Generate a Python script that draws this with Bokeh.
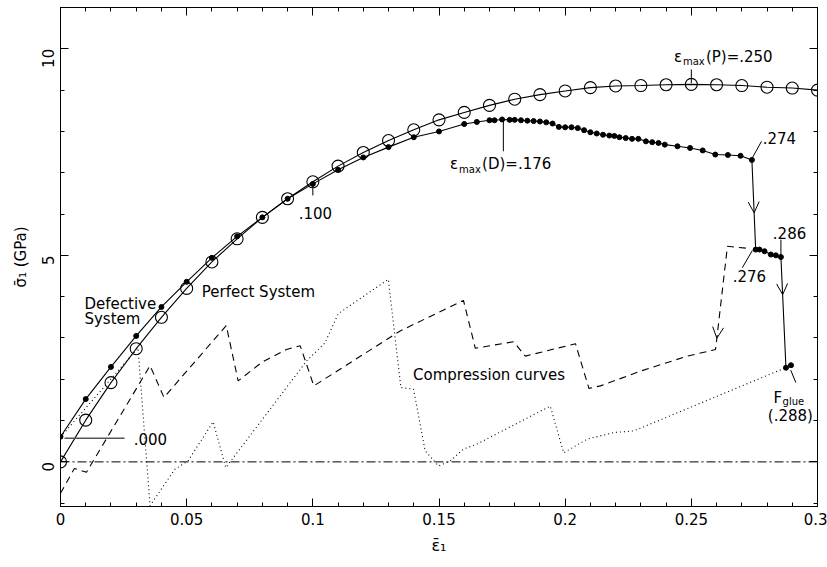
import math
from bokeh.plotting import figure
from bokeh.models import (Range1d, LinearAxis, FixedTicker, NumeralTickFormatter,
                          BasicTickFormatter, Span, Arrow, OpenHead, CustomLabelingPolicy)
from bokeh.core.properties import value
from bokeh.embed import file_html
from bokeh.resources import INLINE

# ---------------- data ----------------
eps_perfect = [0.00, 0.01, 0.02, 0.03, 0.04, 0.05, 0.06, 0.07, 0.08, 0.09, 0.10,
               0.11, 0.12, 0.13, 0.14, 0.15, 0.16, 0.17, 0.18, 0.19, 0.20,
               0.21, 0.22, 0.23, 0.24, 0.25, 0.26, 0.27, 0.28, 0.29, 0.30]
sig_perfect = [0.00, 1.01, 1.92, 2.74, 3.50, 4.20, 4.84, 5.40, 5.92, 6.37, 6.78,
               7.16, 7.49, 7.78, 8.04, 8.28, 8.46, 8.63, 8.78, 8.89, 8.98,
               9.06, 9.10, 9.11, 9.13, 9.14, 9.13, 9.11, 9.07, 9.05, 9.00]

eps_defect = [0.00, 0.01, 0.02, 0.03, 0.04, 0.05, 0.06, 0.07, 0.08, 0.09, 0.10,
              0.11, 0.12, 0.13, 0.14, 0.15, 0.16,
              0.165, 0.170, 0.172, 0.175, 0.178, 0.180, 0.1825, 0.185, 0.1875,
              0.190, 0.1925, 0.195, 0.1975, 0.200,
              0.2025, 0.205, 0.2075, 0.210, 0.2125, 0.215, 0.2175, 0.2195, 0.2215,
              0.224, 0.2265, 0.229,
              0.232, 0.2345, 0.237, 0.2395, 0.2445, 0.2495, 0.2545, 0.2595, 0.2645,
              0.2695, 0.274,
              0.2755, 0.277, 0.279, 0.2815, 0.2835, 0.2855,
              0.2875, 0.2895]
sig_defect = [0.61, 1.52, 2.30, 3.05, 3.75, 4.36, 4.94, 5.46, 5.92, 6.37, 6.73,
              7.07, 7.37, 7.62, 7.86, 8.00, 8.18,
              8.23, 8.27, 8.27, 8.29, 8.28, 8.28, 8.27, 8.26, 8.25,
              8.24, 8.22, 8.19, 8.11, 8.10,
              8.10, 8.08, 8.03, 7.98, 7.95, 7.92, 7.90, 7.89, 7.86,
              7.84, 7.82, 7.82,
              7.76, 7.74, 7.72, 7.68, 7.64, 7.60, 7.54, 7.44, 7.43,
              7.41, 7.31,
              5.14, 5.14, 5.10, 5.02, 5.00, 4.96,
              2.28, 2.34]

eps_comp_dashed = [0.0, 0.0055, 0.0103, 0.0355, 0.041, 0.0657, 0.0704, 0.080, 0.0895,
                   0.095, 0.1004, 0.1346, 0.1597, 0.1644, 0.1796, 0.1842, 0.2041,
                   0.2094, 0.214, 0.230, 0.2484, 0.2596, 0.2643, 0.2722]
sig_comp_dashed = [-0.76, -0.16, -0.25, 2.33, 1.56, 3.30, 1.96, 2.42, 2.72,
                   2.81, 1.84, 3.17, 3.91, 2.75, 2.91, 2.56, 2.86,
                   1.78, 1.84, 2.20, 2.56, 2.72, 5.22, 5.17]

eps_comp_dotted = [0.0, 0.0307, 0.0355, 0.0453, 0.0505, 0.0605, 0.0655, 0.0975, 0.1048,
                   0.1101, 0.1299, 0.1349, 0.1399, 0.1445, 0.1498, 0.1544, 0.1597,
                   0.165, 0.1941, 0.1994, 0.2087, 0.2193, 0.2272, 0.2874]
sig_comp_dotted = [0.60, 2.76, -1.06, -0.18, 0.02, 0.97, -0.14, 2.44, 2.88,
                   3.59, 4.42, 1.80, 1.76, 0.27, -0.10, 0.02, 0.31,
                   0.43, 1.35, 0.22, 0.55, 0.71, 0.75, 2.28]

x_tick_labels = ["0", "0.05", "0.1", "0.15", "0.2", "0.25", "0.3"]
x_minor_ticks = [i / 100 for i in range(31)]
y_tick_labels = ["0", "5", "10"]
y_minor_ticks = list(range(-1, 12))

FONT = "DejaVu Sans"
FS = "15px"
SUB = "10px"

x_major = [float(s) for s in x_tick_labels]
y_major = [float(s) for s in y_tick_labels]

p = figure(width=827, height=567, x_range=Range1d(0, 0.3), y_range=Range1d(-1.08, 11.0),
           output_backend="svg", toolbar_location=None,
           min_border_left=60, min_border_right=10, min_border_top=7, min_border_bottom=61)
p.xgrid.visible = False
p.ygrid.visible = False
p.outline_line_color = "black"
p.background_fill_color = "white"
p.border_fill_color = "white"


def style_axis(ax, show_labels):
    ax.axis_line_color = "black"
    ax.axis_line_width = 1
    ax.major_tick_in = 8
    ax.major_tick_out = 0
    ax.minor_tick_in = 4
    ax.minor_tick_out = 0
    ax.major_tick_line_color = "black"
    ax.minor_tick_line_color = "black"
    ax.major_label_text_font = FONT
    ax.major_label_text_color = "black"
    ax.axis_label_text_color = "black"
    if show_labels:
        ax.major_label_text_font_size = FS
    else:
        ax.major_label_text_font_size = "0px"
        ax.major_label_policy = CustomLabelingPolicy(code="return new Set()")
        ax.major_label_standoff = 0


xa = p.xaxis[0]
xa.ticker = FixedTicker(ticks=x_major, minor_ticks=x_minor_ticks)
xa.formatter = NumeralTickFormatter(format="0.[00]")
style_axis(xa, True)
xa.major_label_standoff = 6
xa.axis_label = "ε̄₁"
xa.axis_label_text_font = FONT
xa.axis_label_text_font_size = "16px"
xa.axis_label_text_font_style = "normal"
xa.axis_label_standoff = 8

ya = p.yaxis[0]
ya.ticker = FixedTicker(ticks=y_major, minor_ticks=y_minor_ticks)
ya.formatter = BasicTickFormatter()
style_axis(ya, True)
ya.major_label_orientation = math.pi / 2
ya.major_label_standoff = 12
ya.axis_label = "σ̄₁ (GPa)"
ya.axis_label_text_font = FONT
ya.axis_label_text_font_size = FS
ya.axis_label_text_font_style = "normal"
ya.axis_label_standoff = 4

top = LinearAxis(ticker=FixedTicker(ticks=x_major, minor_ticks=x_minor_ticks))
style_axis(top, False)
p.add_layout(top, "above")
right = LinearAxis(ticker=FixedTicker(ticks=y_major, minor_ticks=y_minor_ticks))
style_axis(right, False)
p.add_layout(right, "right")

# zero reference line
p.add_layout(Span(location=0, dimension="width", line_color="black", line_width=1,
                  line_dash="9 3 2 3"))

# compression curves
p.line(eps_comp_dashed, sig_comp_dashed, line_color="black", line_width=1.1, line_dash="7 5")
p.line(eps_comp_dotted, sig_comp_dotted, line_color="black", line_width=1.1, line_dash="1 3")

# perfect and defective systems
p.line(eps_perfect, sig_perfect, line_color="black", line_width=1.1)
p.scatter(eps_perfect, sig_perfect, marker="circle", size=12, fill_color=None,
          line_color="black", line_width=1.1)
p.line(eps_defect, sig_defect, line_color="black", line_width=1.1)
p.scatter(eps_defect, sig_defect, marker="circle", size=5, fill_color="black",
          line_color="black")


# arrowheads on the drops
def arrow_on(xs, ys, i, j, t):
    x0, y0, x1, y1 = xs[i], ys[i], xs[j], ys[j]
    xe, ye = x0 + t * (x1 - x0), y0 + t * (y1 - y0)
    xb, yb = x0 + (t - 0.08) * (x1 - x0), y0 + (t - 0.08) * (y1 - y0)
    p.add_layout(Arrow(end=OpenHead(size=11, line_width=1, line_color="black"),
                       x_start=xb, y_start=yb, x_end=xe, y_end=ye, line_alpha=0))


arrow_on(eps_defect, sig_defect, 53, 54, 0.59)
arrow_on(eps_defect, sig_defect, 59, 60, 0.34)
arrow_on(eps_comp_dashed, sig_comp_dashed, 22, 21, 0.89)


def txt(x, y, s, size=FS, align="left", xo=0, yo=0):
    p.text(x=[x], y=[y], text=[s], text_font=value(FONT), text_font_size=size,
           text_align=align, text_baseline="middle", x_offset=xo, y_offset=yo,
           text_color="black")


def seg(x0, y0, x1, y1, color="black", width=1):
    p.segment(x0=[x0], y0=[y0], x1=[x1], y1=[y1], line_color=color, line_width=width)


# annotations
seg(0.0016, sig_defect[0] - 0.04, 0.0254, sig_defect[0] - 0.04, color="#555555", width=1.5)
txt(0.029, sig_defect[0] - 0.05, ".000")

seg(eps_defect[10], 6.70, eps_defect[10], 6.45)
txt(eps_defect[10] + 0.001, 6.02, ".100", align="center")

seg(0.1755, 8.27, 0.1755, 7.52)
txt(0.1544, 7.20, "ε")
txt(0.1544, 7.20, "max", size=SUB, xo=9, yo=5)
txt(0.1544, 7.20, "(D)=.176", xo=32)

seg(eps_perfect[25], 9.50, eps_perfect[25], 9.17)
txt(0.2431, 9.81, "ε")
txt(0.2431, 9.81, "max", size=SUB, xo=9, yo=5)
txt(0.2431, 9.81, "(P)=.250", xo=32)

seg(eps_defect[53], sig_defect[53] + 0.03, 0.2778, 7.76)
txt(0.2783, 7.83, ".274")

seg(0.2742, 5.12, 0.2702, 4.70)
txt(0.2664, 4.50, ".276")

seg(eps_defect[59], 5.38, eps_defect[59], sig_defect[59])
txt(0.2823, 5.54, ".286")

seg(0.2894, 2.22, 0.2914, 1.92)
txt(0.2826, 1.55, "F")
txt(0.2826, 1.55, "glue", size=SUB, xo=9, yo=4)
txt(0.2803, 1.11, "(.288)")

txt(0.0095, 3.82, "Defective")
txt(0.0095, 3.46, "System")
txt(0.0560, 4.11, "Perfect System")
txt(0.1397, 2.10, "Compression curves")

open("out.html", "w").write(file_html(p, INLINE))
